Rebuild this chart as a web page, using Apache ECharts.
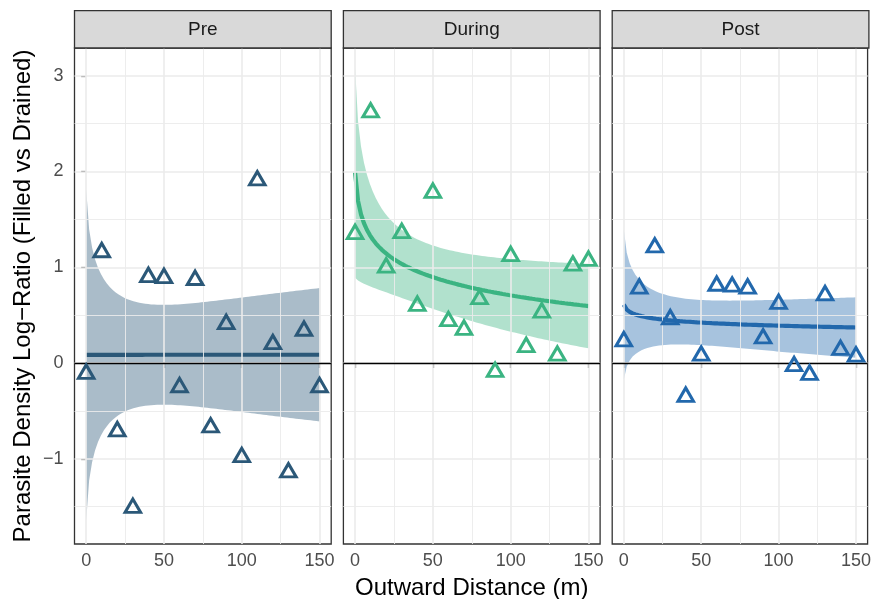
<!DOCTYPE html>
<html><head><meta charset="utf-8">
<script src="https://cdn.jsdelivr.net/npm/echarts@6/dist/echarts.min.js"></script>
<style>html,body{margin:0;padding:0;background:#fff}#c{width:874px;height:599px}</style>
</head><body><div id="c"></div>
<script>
// ---- data ----
const panels = ['Pre', 'During', 'Post'];
const distance = [0, 10, 20, 30, 40, 50, 60, 70, 80, 90, 100, 110, 120, 130, 140, 150];
const preValues    = [-0.09, 1.18, -0.69, -1.49, 0.92, 0.91, -0.23, 0.89, -0.65, 0.43, -0.96, 1.93, 0.22, -1.12, 0.36, -0.23];
const duringValues = [1.37, 2.64, 1.02, 1.38, 0.62, 1.80, 0.46, 0.37, 0.69, -0.07, 1.14, 0.19, 0.55, 0.10, 1.04, 1.09];
const postValues   = [0.25, 0.80, 1.23, 0.48, -0.33, 0.10, 0.83, 0.82, 0.80, 0.28, 0.64, -0.01, -0.10, 0.73, 0.16, 0.09];
const xTicks = [0, 50, 100, 150];
const xMinor = [25, 75, 125];
const yTicks = [-1, 0, 1, 2, 3];
const yMinor = [-1.5, -0.5, 0.5, 1.5, 2.5];
const panelColors = ['#2b5878', '#3bb482', '#2268ac'];
const T_CRIT = 2.144787; // t(0.975, df = 14)

// ---- lm(y ~ log(x + 1)) with 95% CI, as geom_smooth does ----
function lmLogFit(xs, ys) {
  const n = xs.length;
  const L = xs.map(x => Math.log(x + 1));
  const Lbar = L.reduce((a, b) => a + b, 0) / n;
  const ybar = ys.reduce((a, b) => a + b, 0) / n;
  let sxx = 0, sxy = 0;
  for (let i = 0; i < n; i++) { sxx += (L[i] - Lbar) ** 2; sxy += (L[i] - Lbar) * (ys[i] - ybar); }
  const b1 = sxy / sxx, b0 = ybar - b1 * Lbar;
  let sse = 0;
  for (let i = 0; i < n; i++) sse += (ys[i] - b0 - b1 * L[i]) ** 2;
  const sigma = Math.sqrt(sse / (n - 2));
  const xmin = Math.min(...xs), xmax = Math.max(...xs);
  const grid = [], fit = [], upper = [], lower = [];
  const m = 80;
  for (let k = 0; k < m; k++) {
    const x = xmin + (xmax - xmin) * k / (m - 1);
    const l = Math.log(x + 1);
    const f = b0 + b1 * l;
    const se = sigma * Math.sqrt(1 / n + (l - Lbar) ** 2 / sxx);
    grid.push(x); fit.push(f); upper.push(f + T_CRIT * se); lower.push(f - T_CRIT * se);
  }
  return { grid, fit, upper, lower };
}

const seriesValues = [preValues, duringValues, postValues];
const lefts = [74.5, 343.4, 612.2];
const W = 256.7, TOP = 48, H = 496;
const FONT = '"Liberation Sans", Arial, Helvetica, sans-serif';
const minus = v => String(v).replace('-', '\u2212');

const grids = [], xAxes = [], yAxes = [], series = [], graphics = [];

panels.forEach((name, i) => {
  grids.push({ left: lefts[i], top: TOP, width: W, height: H, show: true,
    borderColor: '#333333', borderWidth: 1.3, backgroundColor: '#ffffff', containLabel: false });
  xAxes.push({ type: 'value', gridIndex: i, min: -7.5, max: 157.5,
    axisLine: { show: false },
    axisTick: { show: true, length: 5, lineStyle: { color: '#333333', width: 1.2 }, customValues: xTicks },
    axisLabel: { show: true, margin: 8, color: '#4d4d4d', fontSize: 18, fontFamily: FONT, customValues: xTicks, formatter: minus },
    splitLine: { show: false } });
  yAxes.push({ type: 'value', gridIndex: i, min: -1.89, max: 3.29,
    axisLine: { show: false },
    axisTick: { show: i === 0, length: 5, lineStyle: { color: '#333333', width: 1.2 }, customValues: yTicks },
    axisLabel: { show: i === 0, margin: 11, color: '#4d4d4d', fontSize: 18, fontFamily: FONT, customValues: yTicks, formatter: minus },
    splitLine: { show: false } });

  const c = panelColors[i];
  const vals = seriesValues[i];
  const f = lmLogFit(distance, vals);

  // grid lines
  const gl = [];
  xTicks.forEach(v => gl.push({ xAxis: v, lineStyle: { color: '#ebebeb', width: 1.6, type: 'solid' } }));
  xMinor.forEach(v => gl.push({ xAxis: v, lineStyle: { color: '#ebebeb', width: 0.9, type: 'solid' } }));
  yTicks.forEach(v => gl.push({ yAxis: v, lineStyle: { color: '#ebebeb', width: 1.6, type: 'solid' } }));
  yMinor.forEach(v => gl.push({ yAxis: v, lineStyle: { color: '#ebebeb', width: 0.9, type: 'solid' } }));
  series.push({ type: 'line', xAxisIndex: i, yAxisIndex: i, data: [], z: 1, silent: true,
    markLine: { silent: true, symbol: ['none', 'none'], label: { show: false }, animation: false, data: gl } });

  // confidence ribbon
  series.push({ type: 'custom', xAxisIndex: i, yAxisIndex: i, z: 2, silent: true, data: [[0, 0]],
    renderItem: (params, api) => {
      const pts = [];
      for (let k = 0; k < f.grid.length; k++) pts.push(api.coord([f.grid[k], f.upper[k]]));
      for (let k = f.grid.length - 1; k >= 0; k--) pts.push(api.coord([f.grid[k], f.lower[k]]));
      return { type: 'polygon', shape: { points: pts }, style: { fill: c, opacity: 0.4 } };
    } });

  // horizontal reference line at 0
  series.push({ type: 'line', xAxisIndex: i, yAxisIndex: i, data: [], z: 3, silent: true,
    markLine: { silent: true, symbol: ['none', 'none'], label: { show: false }, animation: false,
      data: [{ yAxis: 0, lineStyle: { color: '#000000', width: 1.3, type: 'solid' } }] } });

  // fitted line
  series.push({ type: 'line', xAxisIndex: i, yAxisIndex: i, z: 4, silent: true, showSymbol: false, symbol: 'none',
    data: f.grid.map((x, k) => [x, f.fit[k]]), lineStyle: { color: c, width: 4.2, opacity: 1 } });

  // points
  series.push({ type: 'scatter', xAxisIndex: i, yAxisIndex: i, z: 5, silent: true,
    symbol: 'triangle', symbolSize: [15.5, 13.4],
    itemStyle: { color: 'rgba(0,0,0,0)', borderColor: c, borderWidth: 3, borderJoin: 'miter', opacity: 1 },
    data: distance.map((x, k) => [x, vals[k]]) });

  // facet strip
  graphics.push({ type: 'rect', shape: { x: lefts[i], y: 10.7, width: W, height: TOP - 10.7 },
    style: { fill: '#d9d9d9', stroke: '#333333', lineWidth: 1.3 }, z: 10 });
  graphics.push({ type: 'text', x: lefts[i] + W / 2, y: (10.7 + TOP) / 2 + 0.5, z: 11,
    style: { text: name, fill: '#1a1a1a', font: '19px ' + FONT, textAlign: 'center', textVerticalAlign: 'middle' } });
});

graphics.push({ type: 'text', x: (lefts[0] + lefts[2] + W) / 2, y: 588, z: 11,
  style: { text: 'Outward Distance (m)', fill: '#000000', font: '24px ' + FONT, textAlign: 'center', textVerticalAlign: 'middle' } });
graphics.push({ type: 'text', x: 23, y: TOP + H / 2, rotation: Math.PI / 2, z: 11,
  style: { text: 'Parasite Density Log\u2212Ratio (Filled vs Drained)', fill: '#000000', font: '24px ' + FONT, textAlign: 'center', textVerticalAlign: 'middle' } });

const chart = echarts.init(document.getElementById('c'), null, { renderer: 'canvas' });
chart.setOption({ animation: false, backgroundColor: '#ffffff', grid: grids, xAxis: xAxes, yAxis: yAxes, series, graphic: graphics });
</script></body></html>
